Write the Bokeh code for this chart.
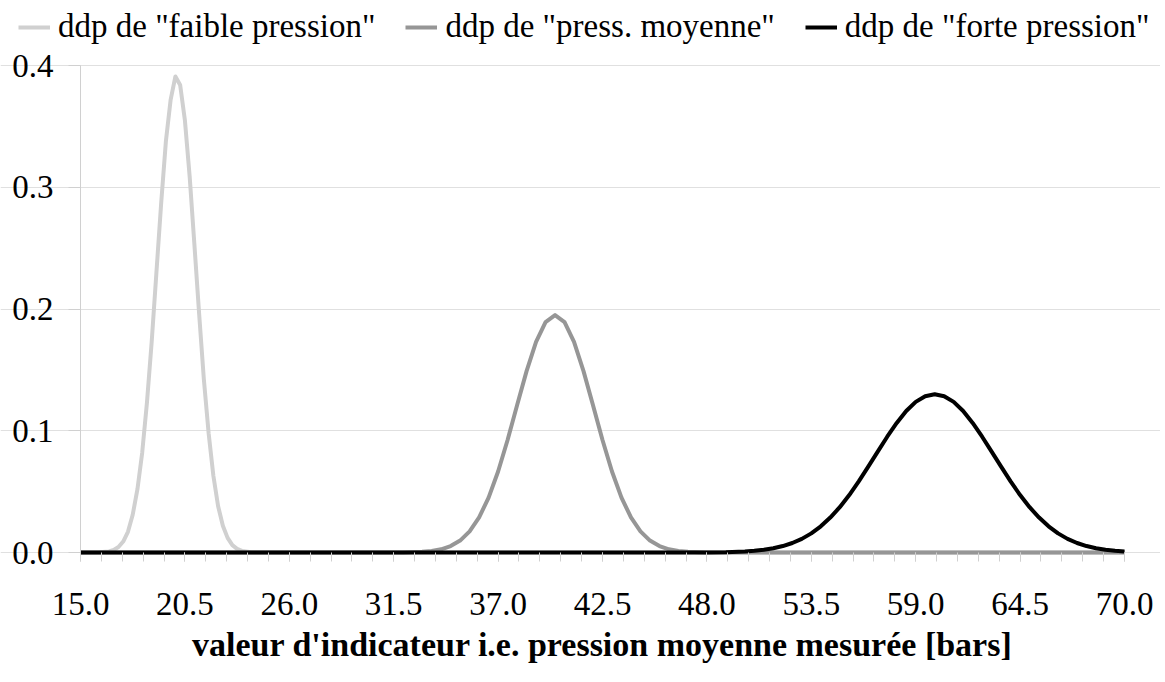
from bokeh.plotting import figure
from bokeh.models import Legend, LegendItem, FixedTicker, Range1d, PrintfTickFormatter
from bokeh.embed import file_html
from bokeh.resources import INLINE

# ---- data ----
series_names = ['ddp de "faible pression"', 'ddp de "press. moyenne"', 'ddp de "forte pression"']

x_faible = [15.0, 16.0, 16.5, 16.75, 17.0, 17.25, 17.5, 17.75, 18.0, 18.25, 18.5, 18.75,
            19.0, 19.25, 19.5, 19.75, 20.0, 20.25, 20.5, 20.75, 21.0, 21.25, 21.5, 21.75,
            22.0, 22.25, 22.5, 22.75, 23.0, 23.25, 23.5, 24.0, 70.0]
y_faible = [0.0, 0.0002, 0.0009, 0.0021, 0.0045, 0.009, 0.017, 0.031, 0.052, 0.082, 0.123, 0.173,
            0.230, 0.287, 0.338, 0.372, 0.391, 0.384, 0.355, 0.309, 0.253, 0.196, 0.142, 0.098,
            0.063, 0.038, 0.022, 0.012, 0.006, 0.003, 0.0013, 0.0002, 0.0]

x_moyenne = [15.0, 32.0, 33.0, 33.5, 34.0, 34.5, 35.0, 35.5, 36.0, 36.5, 37.0, 37.5, 38.0,
             38.5, 39.0, 39.5, 40.0, 40.5, 41.0, 41.5, 42.0, 42.5, 43.0, 43.5, 44.0, 44.5,
             45.0, 45.5, 46.0, 46.5, 47.0, 48.0, 70.0]
y_moyenne = [0.0, 0.0001, 0.0006, 0.0013, 0.0026, 0.0053, 0.0098, 0.0174, 0.0288, 0.0451, 0.0665,
             0.0924, 0.1209, 0.149, 0.173, 0.1893, 0.195, 0.1893, 0.173, 0.149, 0.1209, 0.0924,
             0.0665, 0.0451, 0.0288, 0.0174, 0.0098, 0.0053, 0.0026, 0.0013, 0.0006, 0.0001, 0.0]

x_forte = [15.0, 47.0, 48.0, 49.0, 50.0, 50.5, 51.0, 51.5, 52.0, 52.5, 53.0, 53.5, 54.0, 54.5,
           55.0, 55.5, 56.0, 56.5, 57.0, 57.5, 58.0, 58.5, 59.0, 59.5, 60.0, 60.5, 61.0, 61.5,
           62.0, 62.5, 63.0, 63.5, 64.0, 64.5, 65.0, 65.5, 66.0, 66.5, 67.0, 67.5, 68.0, 68.5,
           69.0, 69.5, 70.0]
y_forte = [0.0, 0.0, 0.0001, 0.0003, 0.0009, 0.0014, 0.0023, 0.0035, 0.0053, 0.0078, 0.0112,
           0.0157, 0.0215, 0.0287, 0.0372, 0.0472, 0.0584, 0.0705, 0.0829, 0.0951, 0.1064,
           0.1162, 0.1237, 0.1284, 0.13, 0.1284, 0.1237, 0.1162, 0.1064, 0.0951, 0.0829,
           0.0705, 0.0584, 0.0472, 0.0372, 0.0287, 0.0215, 0.0157, 0.0112, 0.0078, 0.0053,
           0.0035, 0.0023, 0.0014, 0.0009]

x_tick_labels = [15.0, 20.5, 26.0, 31.5, 37.0, 42.5, 48.0, 53.5, 59.0, 64.5, 70.0]
y_tick_labels = [0.0, 0.1, 0.2, 0.3, 0.4]
x_title = "valeur d'indicateur i.e. pression moyenne mesurée [bars]"

colors = ["#d0d0d0", "#969696", "#000000"]
FONT = "Liberation Serif"
FS = "33px"

# ---- layout (pixel targets of the data area inside the canvas) ----
W, H = 1160, 680
PX_LEFT, PX_RIGHT, PX_TOP, PX_ZERO = 80, 1124, 65, 552
XMIN, XMAX, YMIN, YMAX = 15.0, 70.0, 0.0, 0.4
sx = (PX_RIGHT - PX_LEFT) / (XMAX - XMIN)
sy = (PX_ZERO - PX_TOP) / (YMAX - YMIN)
x_range = Range1d(XMIN - PX_LEFT / sx, XMIN + (W - PX_LEFT) / sx)
y_range = Range1d(YMIN - (H - PX_ZERO) / sy, YMAX + PX_TOP / sy)

p = figure(width=W, height=H, output_backend="svg", toolbar_location=None,
           x_range=x_range, y_range=y_range,
           min_border_left=0, min_border_right=0, min_border_top=0, min_border_bottom=0)
p.title.visible = False
p.outline_line_color = None
p.background_fill_color = "white"

r1 = p.line(x_faible, y_faible, line_color=colors[0], line_width=4, line_join="round")
r2 = p.line(x_moyenne, y_moyenne, line_color=colors[1], line_width=4, line_join="round")
r3 = p.line(x_forte, y_forte, line_color=colors[2], line_width=4, line_join="round")

# grid
p.xgrid.grid_line_color = None
p.ygrid.grid_line_color = "#e0e0e0"
p.ygrid.grid_line_width = 1
p.ygrid.bounds = (XMIN, XMAX)

# x axis (kept in the "below" panel, drawn at y = 0)
xa = p.xaxis[0]
xa.fixed_location = YMIN
xa.bounds = (XMIN, XMAX)
xa.ticker = FixedTicker(ticks=x_tick_labels, minor_ticks=[XMIN + 1.1 * i for i in range(51)])
xa.formatter = PrintfTickFormatter(format="%.1f")
xa.axis_line_color = None
xa.major_tick_line_color = "#d0d0d0"
xa.minor_tick_line_color = "#d0d0d0"
xa.major_tick_in = 0
xa.major_tick_out = 9
xa.minor_tick_in = 0
xa.minor_tick_out = 9
xa.major_label_text_font = FONT
xa.major_label_text_font_size = FS
xa.major_label_text_color = "black"
xa.major_label_standoff = 31
xa.axis_label = x_title
xa.axis_label_text_font = FONT
xa.axis_label_text_font_size = "34px"
xa.axis_label_text_font_style = "bold"
xa.axis_label_text_color = "black"
xa.axis_label_standoff = 8

# y axis (kept in the "left" panel, drawn at x = 15)
ya = p.yaxis[0]
ya.fixed_location = XMIN
ya.bounds = (YMIN, YMAX)
ya.ticker = FixedTicker(ticks=y_tick_labels)
ya.formatter = PrintfTickFormatter(format="%.1f")
ya.axis_line_color = "#d0d0d0"
ya.major_tick_line_color = "#d0d0d0"
ya.minor_tick_line_color = None
ya.major_tick_in = 0
ya.major_tick_out = 12
ya.major_label_text_font = FONT
ya.major_label_text_font_size = FS
ya.major_label_text_color = "black"
ya.major_label_standoff = 15

legend = Legend(items=[LegendItem(label=series_names[0], renderers=[r1]),
                       LegendItem(label=series_names[1], renderers=[r2]),
                       LegendItem(label=series_names[2], renderers=[r3])],
                orientation="horizontal", location=(18, H - 45),
                label_text_font=FONT, label_text_font_size=FS, label_text_color="black",
                glyph_width=32, glyph_height=20, label_standoff=8, spacing=30,
                padding=0, margin=0, border_line_alpha=0, background_fill_alpha=0)
p.add_layout(legend, "center")

open("out.html", "w").write(file_html(p, INLINE))
